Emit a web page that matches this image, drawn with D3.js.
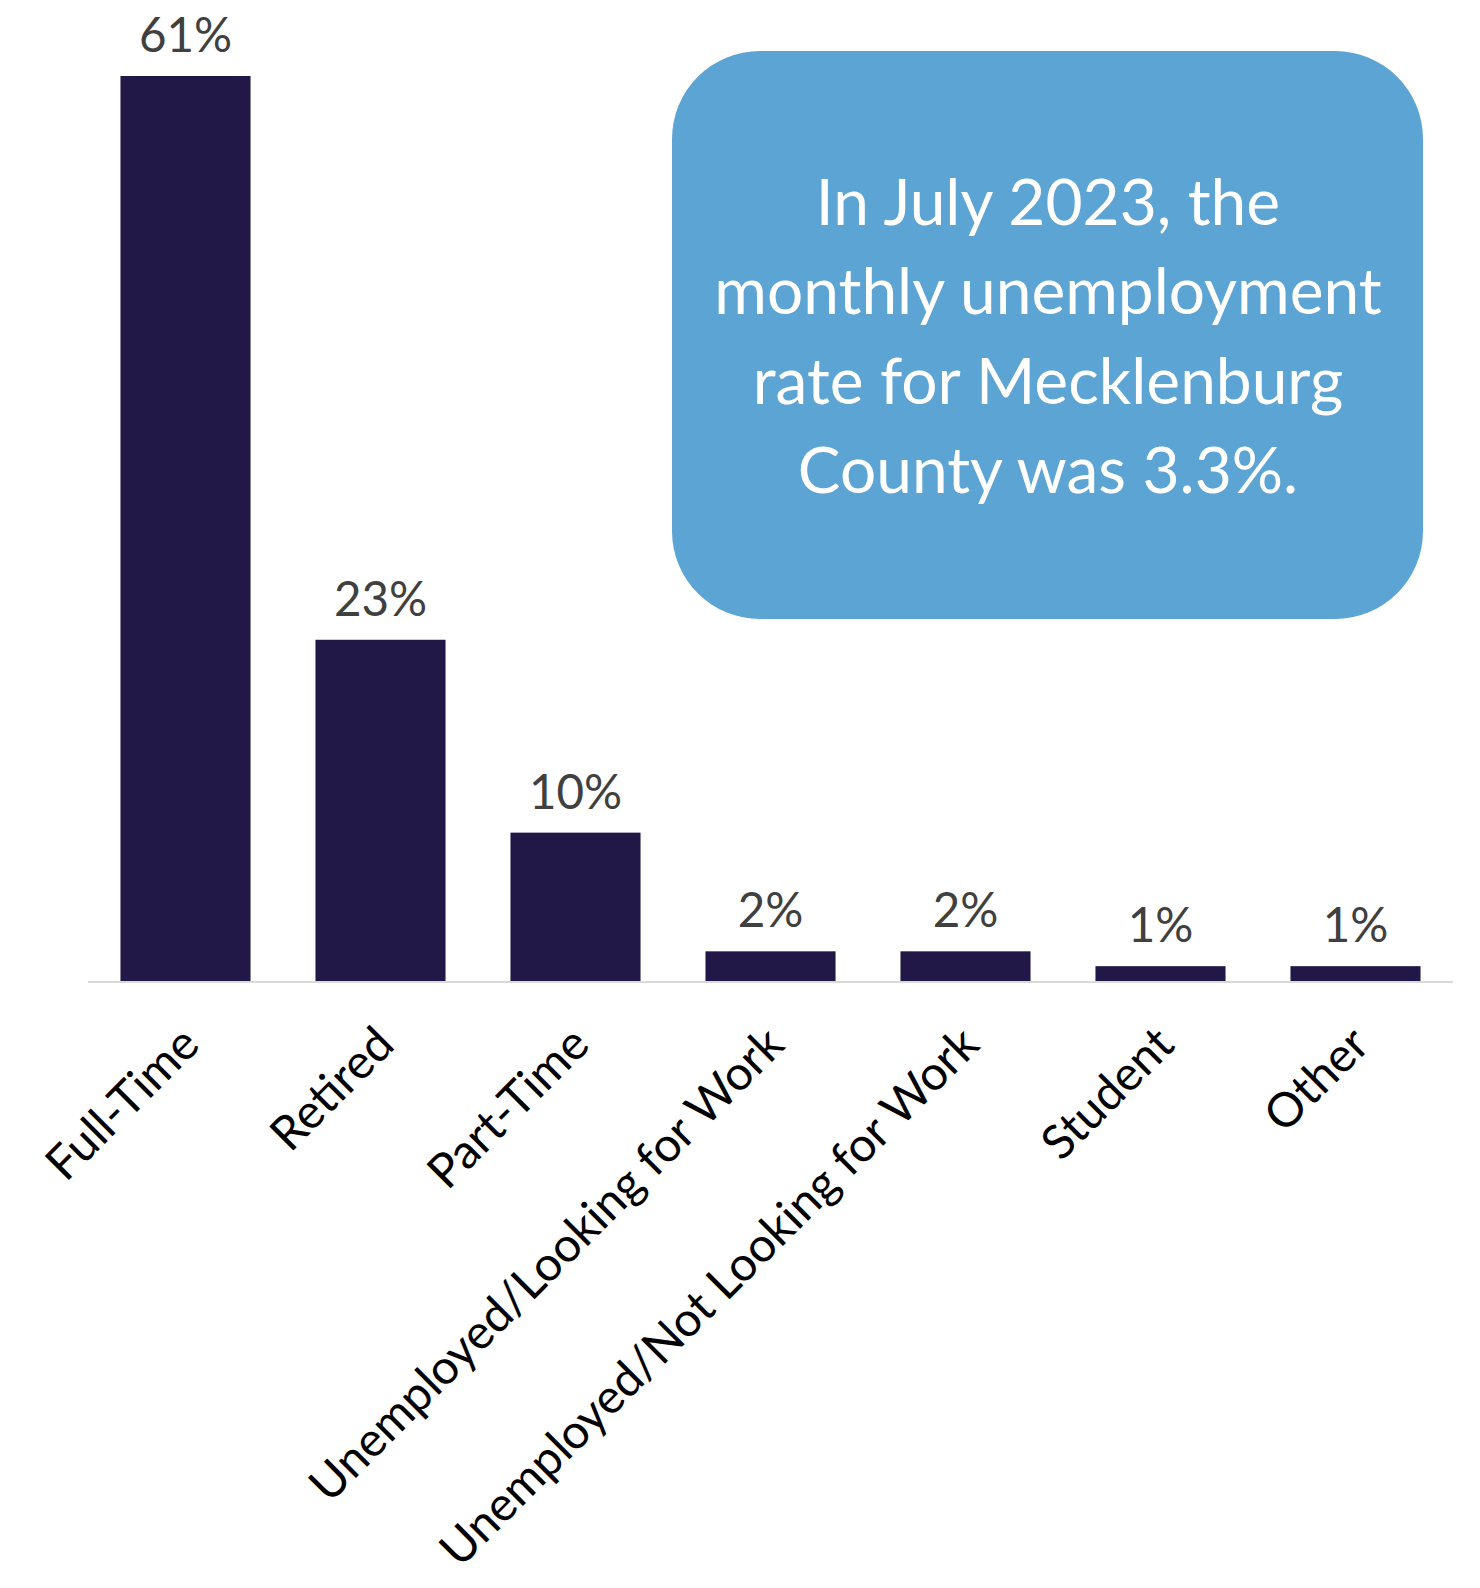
<!DOCTYPE html>
<html><head><meta charset="utf-8">
<script src="https://cdn.jsdelivr.net/npm/d3@7"></script>
<style>body{margin:0;background:#fff}svg{display:block}</style>
</head><body>
<script>
const categories = ["Full-Time","Retired","Part-Time","Unemployed/Looking for Work","Unemployed/Not Looking for Work","Student","Other"];
const values = [61,23,10,2,2,1,1];
const valueLabels = ["61%","23%","10%","2%","2%","1%","1%"];
const calloutLines = ["In July 2023, the","monthly unemployment","rate for Mecklenburg","County was 3.3%."];

const W=1480,H=1588;
const svg=d3.select("body").append("svg").attr("width",W).attr("height",H);
const baseY=981;
const x=d3.scaleBand().domain(categories).range([88,1453]).paddingInner(0.333).paddingOuter(0.1665);
const y=d3.scaleLinear().domain([0,61]).range([baseY,76]);

svg.append("line").attr("x1",88).attr("x2",1453).attr("y1",baseY+1).attr("y2",baseY+1)
  .attr("stroke","#d9d9d9").attr("stroke-width",2);

svg.selectAll("rect.bar").data(values).join("rect").attr("class","bar")
  .attr("x",(d,i)=>x(categories[i])).attr("width",x.bandwidth())
  .attr("y",d=>y(d)).attr("height",d=>baseY-y(d)).attr("fill","#211848");

svg.selectAll("text.val").data(values).join("text").attr("class","val")
  .attr("x",(d,i)=>x(categories[i])+x.bandwidth()/2).attr("y",d=>y(d)-24)
  .attr("text-anchor","middle").attr("font-family","Lato, sans-serif").attr("font-size",47.5)
  .attr("fill","#404040").text((d,i)=>valueLabels[i]);

const xAxis=svg.append("g").attr("transform",`translate(0,${baseY})`)
  .call(d3.axisBottom(x).tickSize(0));
xAxis.select(".domain").remove();
xAxis.selectAll("text").attr("font-family","Lato, sans-serif").attr("font-size",47.5).attr("fill","#000")
  .attr("text-anchor","end").attr("dy",0).attr("dx",0)
  .attr("transform","translate(14,64) rotate(-45)");

// callout
svg.append("rect").attr("x",672).attr("y",51).attr("width",751).attr("height",568)
  .attr("rx",88).attr("ry",88).attr("fill","#5ca4d3");
svg.selectAll("text.call").data(calloutLines).join("text").attr("class","call")
  .attr("x",1048).attr("y",(d,i)=>225+i*89.3).attr("text-anchor","middle")
  .attr("font-family","Lato, sans-serif").attr("font-size",64).attr("fill","#fff").text(d=>d);
</script>
</body></html>
